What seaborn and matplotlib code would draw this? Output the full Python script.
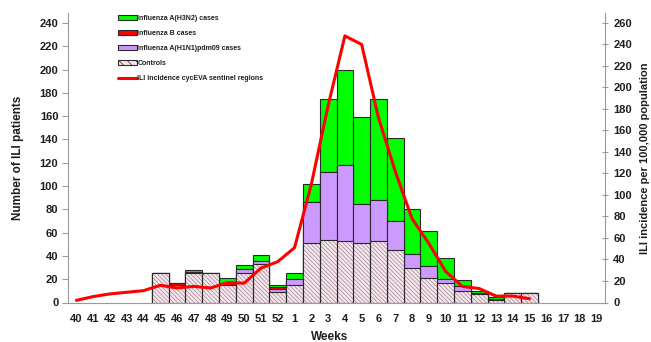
import numpy as np
import pandas as pd
import matplotlib
matplotlib.use("Agg")
import matplotlib.pyplot as plt
import seaborn as sns
from matplotlib.patches import Patch
from matplotlib.lines import Line2D

# ---------------- data ----------------
weeks = [str(w) for w in list(range(40, 53)) + list(range(1, 20))]

bar_weeks = ['45', '46', '47', '48', '49', '50', '51', '52', '1', '2', '3', '4',
             '5', '6', '7', '8', '9', '10', '11', '12', '13', '14', '15']
controls = [25, 15, 25, 25, 15, 25, 33, 9, 15, 51, 54, 53, 51, 53, 45, 30, 21, 17, 10, 7, 2, 8, 8]
h1n1 = [0, 0, 1, 0, 0, 4, 3, 3, 5, 35, 58, 65, 34, 35, 25, 12, 10, 3, 4, 1, 0, 0, 0]
flu_b = [0, 2, 0, 0, 2, 0, 0, 1, 0, 0, 0, 0, 0, 0, 0, 0, 0, 0, 0, 0, 1, 0, 0]
h3n2 = [0, 0, 2, 0, 4, 3, 5, 2, 5, 16, 63, 82, 74, 87, 71, 38, 30, 18, 5, 2, 2, 0, 0]

ili_weeks = ['40', '41', '42', '43', '44', '45', '46', '47', '48', '49', '50', '51', '52',
             '1', '2', '3', '4', '5', '6', '7', '8', '9', '10', '11', '12', '13', '14', '15']
ili_values = [2, 5.5, 8, 9.5, 11, 16, 13.5, 15, 13.5, 18.5, 18, 32, 38,
              51, 110, 183, 248, 240, 172, 122, 78, 55, 29, 15, 13, 6, 6, 3.5]

labels = ['Influenza A(H3N2) cases', 'Influenza B cases',
          'Influenza A(H1N1)pdm09 cases', 'Controls',
          'ILI incidence cycEVA sentinel regions']

# ---------------- style ----------------
sns.set_style("white")
plt.rcParams['font.family'] = ['Liberation Sans', 'DejaVu Sans']
plt.rcParams['hatch.linewidth'] = 0.5

GREEN = '#00ff00'
RED = '#ff0000'
PURPLE = '#cc99ff'
CTRL_FACE = '#f8e6ee'
CTRL_HATCH = '#9a8792'
EDGE = '#2a2a2a'
AXIS = '#9a9a9a'
TXT = '#1e1e1e'

df = pd.DataFrame({'week': bar_weeks, 'controls': controls, 'h1n1': h1n1,
                   'flu_b': flu_b, 'h3n2': h3n2})
df['c1'] = df['controls'] + df['h1n1']
df['c2'] = df['c1'] + df['flu_b']
df['c3'] = df['c2'] + df['h3n2']

fig = plt.figure(figsize=(6.51, 3.42), dpi=100)
ax = fig.add_axes([68 / 651, 1 - 302.5 / 342, (605 - 68) / 651, (302.5 - 13) / 342])

common = dict(data=df, x='week', order=weeks, width=1.0, saturation=1, ax=ax, errorbar=None)
sns.barplot(y='c3', color=GREEN, edgecolor=EDGE, linewidth=0.8, **common)
sns.barplot(y='c2', color=RED, edgecolor=EDGE, linewidth=0.8, **common)
sns.barplot(y='c1', color=PURPLE, edgecolor=EDGE, linewidth=0.8, **common)
sns.barplot(y='controls', color=CTRL_FACE, edgecolor=CTRL_HATCH, linewidth=0,
            hatch='\\\\\\\\\\\\\\\\', **common)
sns.barplot(y='controls', color=EDGE, fill=False, linewidth=0.8, **common)

ax.set_xlim(-0.5, len(weeks) - 0.5)
ax.set_ylim(0, 248.6)
ax.set_yticks(np.arange(0, 241, 20))
ax.set_xlabel('')
ax.set_ylabel('Number of ILI patients', fontsize=8.5, fontweight='bold', color=TXT, labelpad=11)
ax.set_xticks(range(len(weeks)))
ax.set_xticklabels(weeks)
ax.set_xticks(np.arange(-0.5, len(weeks)), minor=True)
ax.tick_params(axis='x', which='major', length=0, pad=8, labelsize=8)
ax.tick_params(axis='x', which='minor', length=4, color=AXIS, width=0.8, direction='out')
ax.tick_params(axis='y', length=4, color=AXIS, width=0.8, direction='out', labelsize=8, pad=3)
for lab in ax.get_xticklabels() + ax.get_yticklabels():
    lab.set_fontweight('bold')
    lab.set_color(TXT)
for s in ['top', 'right']:
    ax.spines[s].set_visible(False)
for s in ['left', 'bottom']:
    ax.spines[s].set_color(AXIS)
    ax.spines[s].set_linewidth(0.8)

ax2 = ax.twinx()
ili_pos = [weeks.index(w) for w in ili_weeks]
sns.lineplot(x=ili_pos, y=ili_values, ax=ax2, color=RED, linewidth=2.2)
ax2.set_ylim(0, 269.3)
ax2.set_xlim(-0.5, len(weeks) - 0.5)
ax2.set_yticks(np.arange(0, 261, 20))
ax2.tick_params(axis='y', length=4, color=AXIS, width=0.8, direction='inout', labelsize=8, pad=4)
for lab in ax2.get_yticklabels():
    lab.set_fontweight('bold')
    lab.set_color(TXT)
ax2.set_ylabel('ILI incidence per 100,000 population', fontsize=8, fontweight='bold',
               color=TXT, labelpad=6)
for s in ['top', 'left', 'bottom']:
    ax2.spines[s].set_visible(False)
ax2.spines['right'].set_color(AXIS)
ax2.spines['right'].set_linewidth(0.8)

fig.text(330 / 651, 1 - 331.5 / 342, 'Weeks', ha='center', va='top', fontsize=8.5,
         fontweight='bold', color=TXT)

handles = [Patch(facecolor=GREEN, edgecolor=EDGE, linewidth=0.8),
           Patch(facecolor=RED, edgecolor=EDGE, linewidth=0.8),
           Patch(facecolor=PURPLE, edgecolor=EDGE, linewidth=0.8),
           Patch(facecolor=CTRL_FACE, edgecolor=EDGE, linewidth=0.8, hatch='\\\\\\\\'),
           Line2D([0], [0], color=RED, linewidth=2.2)]
leg = fig.legend(handles, labels, loc='upper left', bbox_to_anchor=(118 / 651, 1 - 15 / 342),
                 frameon=False, fontsize=5, handlelength=2.7, handleheight=0.7,
                 handletextpad=0.1, labelspacing=1.15, borderpad=0, borderaxespad=0)
for t in leg.get_texts():
    t.set_fontweight('bold')
    t.set_color(TXT)

fig.savefig('out.png', dpi=100)
